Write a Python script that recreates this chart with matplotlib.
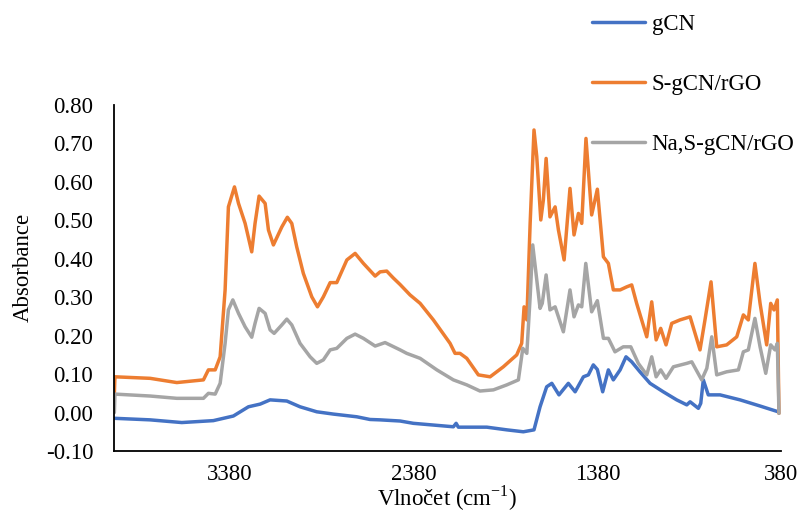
import numpy as np
import matplotlib
matplotlib.use("Agg")
import matplotlib.pyplot as plt

plt.rcParams['font.family'] = ['Liberation Serif', 'DejaVu Serif']
plt.rcParams['mathtext.fontset'] = 'custom'
plt.rcParams['mathtext.rm'] = 'Liberation Serif'

# gCN
wn_gcn = [4007, 3815, 3643, 3471, 3362, 3280, 3216, 3162, 3071, 2999, 2908, 2817,
          2690, 2618, 2563, 2454, 2382, 2164, 2149, 2137, 1982, 1873, 1783, 1725,
          1692, 1656, 1628, 1589, 1538, 1501, 1456, 1429, 1402, 1380, 1351, 1320,
          1293, 1256, 1224, 1193, 1148, 1093, 1021, 948, 893, 875, 830, 817, 803,
          776, 712, 603, 494, 395]
abs_gcn = [-0.015, -0.019, -0.026, -0.021, -0.009, 0.015, 0.022, 0.033, 0.030, 0.015,
           0.002, -0.004, -0.011, -0.018, -0.019, -0.022, -0.028, -0.037, -0.028,
           -0.038, -0.038, -0.045, -0.050, -0.045, 0.015, 0.067, 0.076, 0.046, 0.076,
           0.054, 0.093, 0.098, 0.124, 0.112, 0.054, 0.111, 0.085, 0.111, 0.145,
           0.132, 0.106, 0.076, 0.054, 0.033, 0.020, 0.028, 0.011, 0.024, 0.085,
           0.046, 0.046, 0.033, 0.017, 0.002]

# S-gCN/rGO
wn_s = [4010, 4007, 3815, 3670, 3525, 3498, 3461, 3434, 3407, 3389, 3356, 3334, 3298,
        3262, 3244, 3222, 3189, 3171, 3144, 3098, 3068, 3044, 3017, 2981, 2935, 2904,
        2872, 2835, 2799, 2744, 2699, 2654, 2590, 2563, 2527, 2491, 2454, 2400, 2345,
        2273, 2182, 2155, 2128, 2091, 2028, 1964, 1892, 1819, 1792, 1779, 1764, 1746,
        1725, 1710, 1688, 1674, 1659, 1638, 1610, 1592, 1561, 1529, 1507, 1483, 1465,
        1442, 1411, 1380, 1347, 1320, 1293, 1256, 1220, 1193, 1166, 1111, 1084, 1060,
        1035, 1006, 975, 930, 875, 821, 794, 761, 730, 676, 621, 585, 558, 522, 494,
        458, 436, 418, 400, 391]
abs_s = [0.05, 0.093, 0.089, 0.078, 0.085, 0.111, 0.111, 0.145, 0.319, 0.535, 0.587,
         0.544, 0.492, 0.418, 0.492, 0.563, 0.544, 0.475, 0.436, 0.483, 0.508, 0.492,
         0.431, 0.362, 0.301, 0.275, 0.301, 0.338, 0.338, 0.397, 0.414, 0.388, 0.355,
         0.366, 0.368, 0.350, 0.333, 0.306, 0.284, 0.241, 0.180, 0.154, 0.154, 0.141,
         0.098, 0.093, 0.119, 0.150, 0.180, 0.275, 0.241, 0.492, 0.735, 0.666, 0.501,
         0.553, 0.661, 0.509, 0.535, 0.475, 0.397, 0.583, 0.462, 0.518, 0.492, 0.713,
         0.514, 0.581, 0.405, 0.388, 0.319, 0.319, 0.327, 0.332, 0.284, 0.197, 0.288,
         0.189, 0.219, 0.176, 0.232, 0.241, 0.249, 0.163, 0.241, 0.340, 0.171, 0.176,
         0.197, 0.254, 0.241, 0.388, 0.284, 0.176, 0.284, 0.267, 0.293, -0.002]

# Na,S-gCN/rGO
wn_na = [4010, 4007, 3815, 3670, 3525, 3498, 3461, 3434, 3407, 3389, 3365, 3334, 3298,
         3262, 3244, 3222, 3189, 3162, 3140, 3098, 3071, 3044, 2999, 2944, 2908, 2872,
         2835, 2799, 2744, 2699, 2654, 2590, 2536, 2454, 2418, 2345, 2254, 2164, 2091,
         2019, 1946, 1873, 1810, 1786, 1764, 1746, 1732, 1714, 1692, 1680, 1659, 1638,
         1610, 1565, 1529, 1507, 1483, 1465, 1443, 1411, 1380, 1347, 1320, 1284, 1239,
         1198, 1157, 1111, 1084, 1060, 1035, 1006, 966, 893, 866, 812, 784, 757, 730,
         676, 612, 585, 558, 522, 494, 463, 436, 413, 400, 391]
abs_na = [0.0, 0.048, 0.043, 0.037, 0.037, 0.050, 0.048, 0.076, 0.180, 0.267, 0.293,
          0.258, 0.223, 0.196, 0.232, 0.271, 0.258, 0.215, 0.206, 0.228, 0.243, 0.228,
          0.180, 0.145, 0.128, 0.137, 0.163, 0.167, 0.193, 0.204, 0.193, 0.173, 0.182,
          0.163, 0.154, 0.141, 0.111, 0.085, 0.072, 0.056, 0.059, 0.072, 0.085, 0.167,
          0.154, 0.301, 0.436, 0.362, 0.271, 0.284, 0.358, 0.267, 0.275, 0.210, 0.319,
          0.249, 0.280, 0.275, 0.388, 0.262, 0.291, 0.193, 0.193, 0.158, 0.171, 0.171,
          0.128, 0.098, 0.145, 0.093, 0.111, 0.089, 0.119, 0.128, 0.132, 0.085, 0.115,
          0.197, 0.098, 0.106, 0.111, 0.158, 0.163, 0.245, 0.171, 0.102, 0.176, 0.163,
          0.180, -0.002]

x_ticks = [3380, 2380, 1380, 380]
y_ticks = np.arange(-0.1, 0.81, 0.1)

fig = plt.figure(figsize=(8.03, 5.16), dpi=100)
ax = fig.add_axes([114/803, 1-451/516, 667/803, 346/516])

style = dict(lw=2.5, solid_joinstyle='round', solid_capstyle='round')
ax.plot(wn_gcn, abs_gcn, color='#4472C4', label='gCN', **style)
ax.plot(wn_s, abs_s, color='#ED7D31', label='S-gCN/rGO', **style)
ax.plot(wn_na, abs_na, color='#A5A5A5', label='Na,S-gCN/rGO', **style)

ax.set_xlim(4012, 380)
ax.set_ylim(-0.1, 0.8)
ax.set_xticks(x_ticks)
ax.set_xticklabels([str(t) for t in x_ticks])
ax.set_yticks(y_ticks)
ax.set_yticklabels(['%.2f' % t for t in y_ticks])
ax.tick_params(length=0, labelsize=16.5)
ax.tick_params(axis='x', pad=9)
ax.tick_params(axis='y', pad=15)
for s in ['top', 'right']:
    ax.spines[s].set_visible(False)
for s in ['left', 'bottom']:
    ax.spines[s].set_linewidth(1.3)
    ax.spines[s].set_color('black')

ax.set_ylabel('Absorbance', fontsize=16.5)
ax.yaxis.set_label_coords(-0.12, 0.53)
ax.set_xlabel(r'Vlnočet (cm$^{\mathrm{-1}}$)', fontsize=16.5, labelpad=-1)

fig.legend(loc='upper left', bbox_to_anchor=(592/803, 1-14/516), frameon=False,
           fontsize=16.5, handlelength=2.3, handletextpad=0.3, labelspacing=1.7,
           borderpad=0, borderaxespad=0)

fig.savefig('out.png', dpi=100)
